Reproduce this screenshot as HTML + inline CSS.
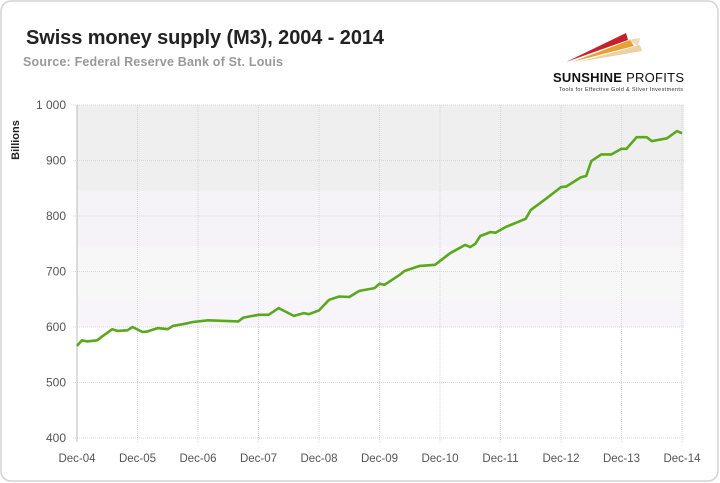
<!DOCTYPE html>
<html><head><meta charset="utf-8"><style>
body{margin:0;background:#fff;font-family:"Liberation Sans",sans-serif}
#wrap{position:relative;width:720px;height:483px;overflow:hidden}
</style></head><body>
<div id="wrap">
<svg id="chart" width="720" height="483" viewBox="0 0 720 483" xmlns="http://www.w3.org/2000/svg">
<rect x="1" y="1" width="717" height="480" rx="10" fill="#fff" stroke="#d4d4d4" stroke-width="1.5"/>
<text x="26" y="44" font-size="20" font-weight="bold" fill="#222" textLength="358">Swiss money supply (M3), 2004 - 2014</text>
<text x="23" y="66" font-size="12.5" font-weight="bold" fill="#999" textLength="260">Source: Federal Reserve Bank of St. Louis</text>
<g>
<polygon points="566,62 626,33 628,40" fill="#c8202a"/>
<polygon points="572,62 630,40 634,46" fill="#e8a030"/>
<polygon points="578,62 640,45 642,51" fill="#f0d0a0"/>
<polygon points="628,40 640,38 638,46" fill="#e8c080" opacity="0.6"/>
<text x="553" y="82" font-size="13" font-weight="bold" fill="#111" textLength="131">SUNSHINE <tspan font-weight="normal">PROFITS</tspan></text>
<text x="559" y="91" font-size="5.5" fill="#333" textLength="124">Tools for Effective Gold &amp; Silver Investments</text>
</g>
<g id="plot"></g>
<text transform="translate(19,140) rotate(-90)" text-anchor="middle" font-size="11" font-weight="bold" fill="#222">Billions</text>
</svg>
</div>
<script>
const yTicks=[400,500,600,700,800,900,1000];
const yTickLabels=["400","500","600","700","800","900","1 000"];
const xTickLabels=["Dec-04","Dec-05","Dec-06","Dec-07","Dec-08","Dec-09","Dec-10","Dec-11","Dec-12","Dec-13","Dec-14"];
const months=[0,1,2,4,5,7,8,10,11,13,14,16,18,19,21,23,26,32,33,36,38,40,43,45,46,48,50,52,54,56,59,60,61,64,65,68,71,74,77,78,79,80,82,83,85,89,90,93,96,97,100,101,102,104,106,108,109,111,113,114,117,119,120];
const values=[566,576,574,576,583,596,593,594,600,591,592,598,596,602,605,609,612,610,617,622,622,634,620,625,623,630,649,655,654,665,670,678,676,694,701,710,712,733,748,744,750,764,771,770,780,795,811,831,852,853,870,872,899,911,911,921,921,942,942,935,940,953,949];
const NS="http://www.w3.org/2000/svg";
const L=77,R=682,T=105,B=438;
const xs=m=>L+(R-L)*m/120;
const ys=v=>B-(B-T)*(v-400)/600;
const plot=document.getElementById('plot');
function mk(tag,attrs){const e=document.createElementNS(NS,tag);for(const k in attrs)e.setAttribute(k,attrs[k]);plot.appendChild(e);return e;}
const bands=[[1000,845,"#efefef"],[845,745,"#f5f2f8"],[745,650,"#f7f7f7"],[650,600,"#f7f5fa"]];
bands.forEach(b=>{const r=mk('rect',{x:L,y:ys(b[0]),width:R-L+2,height:ys(b[1])-ys(b[0]),fill:b[2]});

});
yTicks.forEach((t,i)=>{const l=mk('line',{x1:L-4,x2:R+2,y1:ys(t),y2:ys(t),stroke:"#d8d8d8","stroke-dasharray":"1,1"});


const tx=mk('text',{x:66,y:ys(t)+4,"text-anchor":"end","font-size":12,fill:"#555"});tx.textContent=yTickLabels[i];

});
xTickLabels.forEach((lab,i)=>{const x=xs(i*12);const l=mk('line',{x1:x,x2:x,y1:T,y2:B+4,stroke:"#d4d4d4","stroke-dasharray":"1,1"});


const tx=mk('text',{x:x,y:462,"text-anchor":"middle","font-size":11.5,fill:"#555"});tx.textContent=lab;

});
const ax=mk('line',{x1:L,x2:L,y1:T,y2:B+4,stroke:"#bbb"});


const pts=months.map((m,i)=>xs(m).toFixed(1)+","+ys(values[i]).toFixed(1)).join(" ");
const pl=mk('polyline',{points:pts,fill:"none",stroke:"#5aa81c","stroke-width":2.6,"stroke-linejoin":"round"});


</script>
</body></html>
